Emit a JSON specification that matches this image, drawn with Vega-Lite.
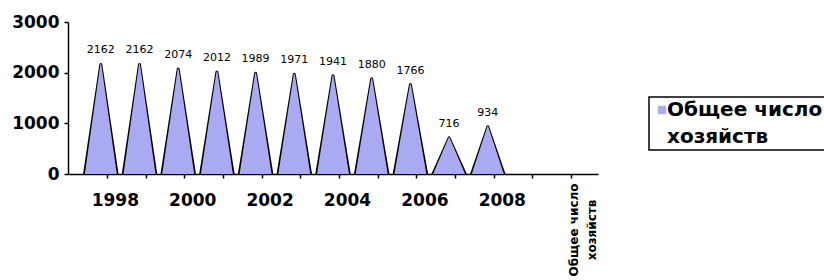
{
  "$schema": "https://vega.github.io/schema/vega-lite/v6.json",
  "width": 530,
  "height": 152,
  "autosize": {"type": "none"},
  "padding": {"left": 68, "top": 22, "right": 226, "bottom": 106},
  "background": "white",
  "config": {"view": {"stroke": null}, "font": "DejaVu Sans"},
  "datasets": {
    "farms": [
      {"year": "1998", "value": 2162},
      {"year": "1999", "value": 2162},
      {"year": "2000", "value": 2074},
      {"year": "2001", "value": 2012},
      {"year": "2002", "value": 1989},
      {"year": "2003", "value": 1971},
      {"year": "2004", "value": 1941},
      {"year": "2005", "value": 1880},
      {"year": "2006", "value": 1766},
      {"year": "2007", "value": 716},
      {"year": "2008", "value": 934}
    ]
  },
  "data": {"name": "farms"},
  "layer": [
    {
      "transform": [
        {"stack": "value", "groupby": ["year"], "as": ["v0", "v1"]},
        {"fold": ["v0", "v1"], "as": ["end", "v"]}
      ],
      "mark": {"type": "trail", "color": "black", "clip": true},
      "encoding": {
        "x": {
          "field": "year",
          "type": "ordinal",
          "scale": {
            "type": "point",
            "domain": ["1998", "1999", "2000", "2001", "2002", "2003", "2004", "2005", "2006", "2007", "2008", " ", "Общее число хозяйств"],
            "padding": 0.848
          },
          "axis": {
            "title": null,
            "labelAngle": 0,
            "labelExpr": "indexof(['1998','2000','2002','2004','2006','2008'], datum.label) >= 0 ? datum.label : ''",
            "labelFont": "DejaVu Sans",
            "labelFontSize": 17,
            "labelFontWeight": "bold",
            "labelColor": "black",
            "labelPadding": 14,
            "labelOffset": 8,
            "tickOffset": 6,
            "tickSize": 4,
            "tickColor": "black",
            "tickWidth": 1.5,
            "domainColor": "black",
            "domainWidth": 1.5,
            "grid": false
          }
        },
        "y": {
          "field": "v",
          "type": "quantitative",
          "scale": {"domain": [0, 3000], "nice": false},
          "axis": {
            "title": null,
            "values": [0, 1000, 2000, 3000],
            "format": "d",
            "labelFont": "DejaVu Sans",
            "labelFontSize": 17,
            "labelFontWeight": "bold",
            "labelColor": "black",
            "labelPadding": 5,
            "tickSize": 4,
            "tickColor": "black",
            "tickWidth": 1.5,
            "domainColor": "black",
            "domainWidth": 1.5,
            "grid": false
          }
        },
        "detail": {"field": "year"},
        "size": {
          "field": "end",
          "type": "ordinal",
          "scale": {"domain": ["v0", "v1"], "range": [35.5, 3]},
          "legend": null
        }
      }
    },
    {
      "transform": [
        {"stack": "value", "groupby": ["year"], "as": ["v0", "v1"]},
        {"fold": ["v0", "v1"], "as": ["end", "v"]}
      ],
      "mark": {"type": "trail", "clip": true},
      "encoding": {
        "x": {"field": "year", "type": "ordinal"},
        "y": {"field": "v", "type": "quantitative"},
        "detail": {"field": "year"},
        "size": {
          "field": "end",
          "type": "ordinal",
          "scale": {"domain": ["v0", "v1"], "range": [32, 0]},
          "legend": null
        },
        "color": {
          "datum": "Общее число хозяйств",
          "type": "nominal",
          "scale": {"range": ["#aaaaf2"]},
          "legend": {
            "title": null,
            "orient": "none",
            "legendX": 581,
            "legendY": 75,
            "strokeColor": "black",
            "padding": 3,
            "symbolType": "square",
            "symbolSize": 56,
            "symbolFillColor": "#aaaaf2",
            "symbolStrokeColor": "black",
            "symbolStrokeWidth": 1,
            "labelFont": "DejaVu Sans",
            "labelFontSize": 20,
            "labelFontWeight": "bold",
            "labelColor": "black",
            "labelLimit": 0,
            "labelOffset": -5,
            "labelExpr": "['Общее число', 'хозяйств']",
            "encode": {
              "labels": {"update": {"lineHeight": {"value": 27}}},
              "legend": {"update": {"strokeWidth": {"value": 1.5}}}
            }
          }
        }
      }
    },
    {
      "mark": {"type": "text", "font": "DejaVu Sans", "fontSize": 11, "color": "black", "baseline": "middle", "dy": -14},
      "encoding": {
        "x": {"field": "year", "type": "ordinal"},
        "y": {"field": "value", "type": "quantitative"},
        "text": {"field": "value", "type": "quantitative", "format": "d"}
      }
    },
    {
      "data": {"values": [{"year": "Общее число хозяйств"}]},
      "mark": {"type": "text", "font": "DejaVu Sans", "fontSize": 12, "fontWeight": "bold", "color": "black", "angle": 270, "align": "center", "baseline": "middle", "dx": -56, "dy": 9, "lineHeight": 18},
      "encoding": {
        "x": {"field": "year", "type": "ordinal"},
        "y": {"datum": 0, "type": "quantitative"},
        "text": {"value": ["Общее число", "хозяйств"]}
      }
    }
  ],
  "resolve": {"scale": {"size": "independent"}}
}
